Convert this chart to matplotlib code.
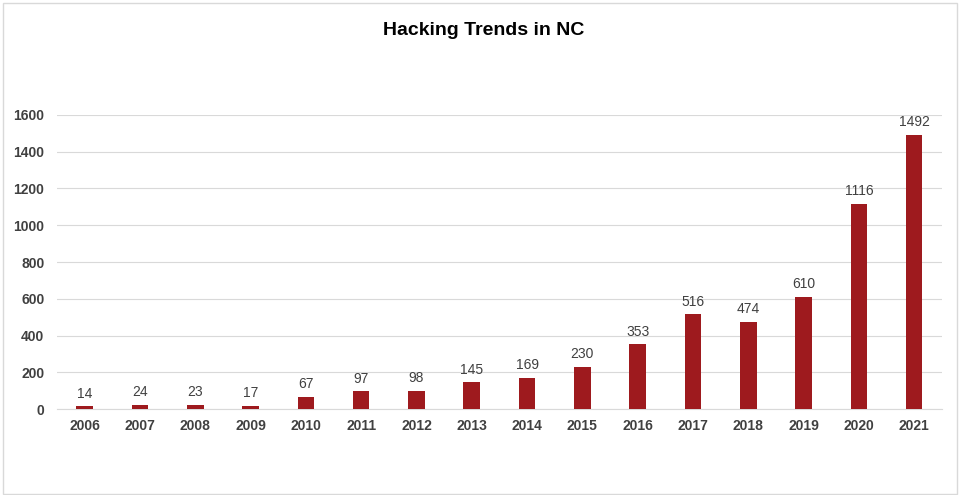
import matplotlib.pyplot as plt
from matplotlib.patches import Rectangle

years = ['2006', '2007', '2008', '2009', '2010', '2011', '2012', '2013',
         '2014', '2015', '2016', '2017', '2018', '2019', '2020', '2021']
incidents = [14, 24, 23, 17, 67, 97, 98, 145, 169, 230, 353, 516, 474, 610, 1116, 1492]
y_ticks = [0, 200, 400, 600, 800, 1000, 1200, 1400, 1600]

plt.rcParams['font.family'] = ['Liberation Sans', 'DejaVu Sans']

fig = plt.figure(figsize=(9.61, 4.95), dpi=100)
ax = fig.add_axes([0.0593, 0.1737, 0.9207, 0.594])

bar_color = '#9E1A1E'
bars = ax.bar(years, incidents, width=0.3, color=bar_color, zorder=3)
for b, v in zip(bars, incidents):
    ax.annotate(str(v), (b.get_x() + b.get_width() / 2, v), xytext=(0, 4),
                textcoords='offset points', ha='center', va='bottom',
                fontsize=10, color='#404040')

ax.set_ylim(0, 1600)
ax.set_xlim(-0.5, len(years) - 0.5)
ax.set_yticks(y_ticks)
ax.grid(axis='y', color='#D9D9D9', linewidth=0.8, zorder=0)
for s in ['top', 'right', 'left']:
    ax.spines[s].set_visible(False)
ax.spines['bottom'].set_color('#D9D9D9')
ax.spines['bottom'].set_linewidth(0.8)
ax.tick_params(axis='both', length=0, colors='#404040', labelsize=10)
ax.tick_params(axis='y', pad=9)
ax.tick_params(axis='x', pad=7)
for lbl in ax.get_xticklabels() + ax.get_yticklabels():
    lbl.set_fontweight('bold')

fig.suptitle('Hacking Trends in NC', x=0.503, y=0.955, fontsize=14,
             fontweight='bold', color='black')

fig.patches.append(Rectangle((0.003, 0.003), 0.993, 0.991, transform=fig.transFigure,
                             fill=False, edgecolor='#D9D9D9', linewidth=1))

fig.savefig('out.png', dpi=100)
